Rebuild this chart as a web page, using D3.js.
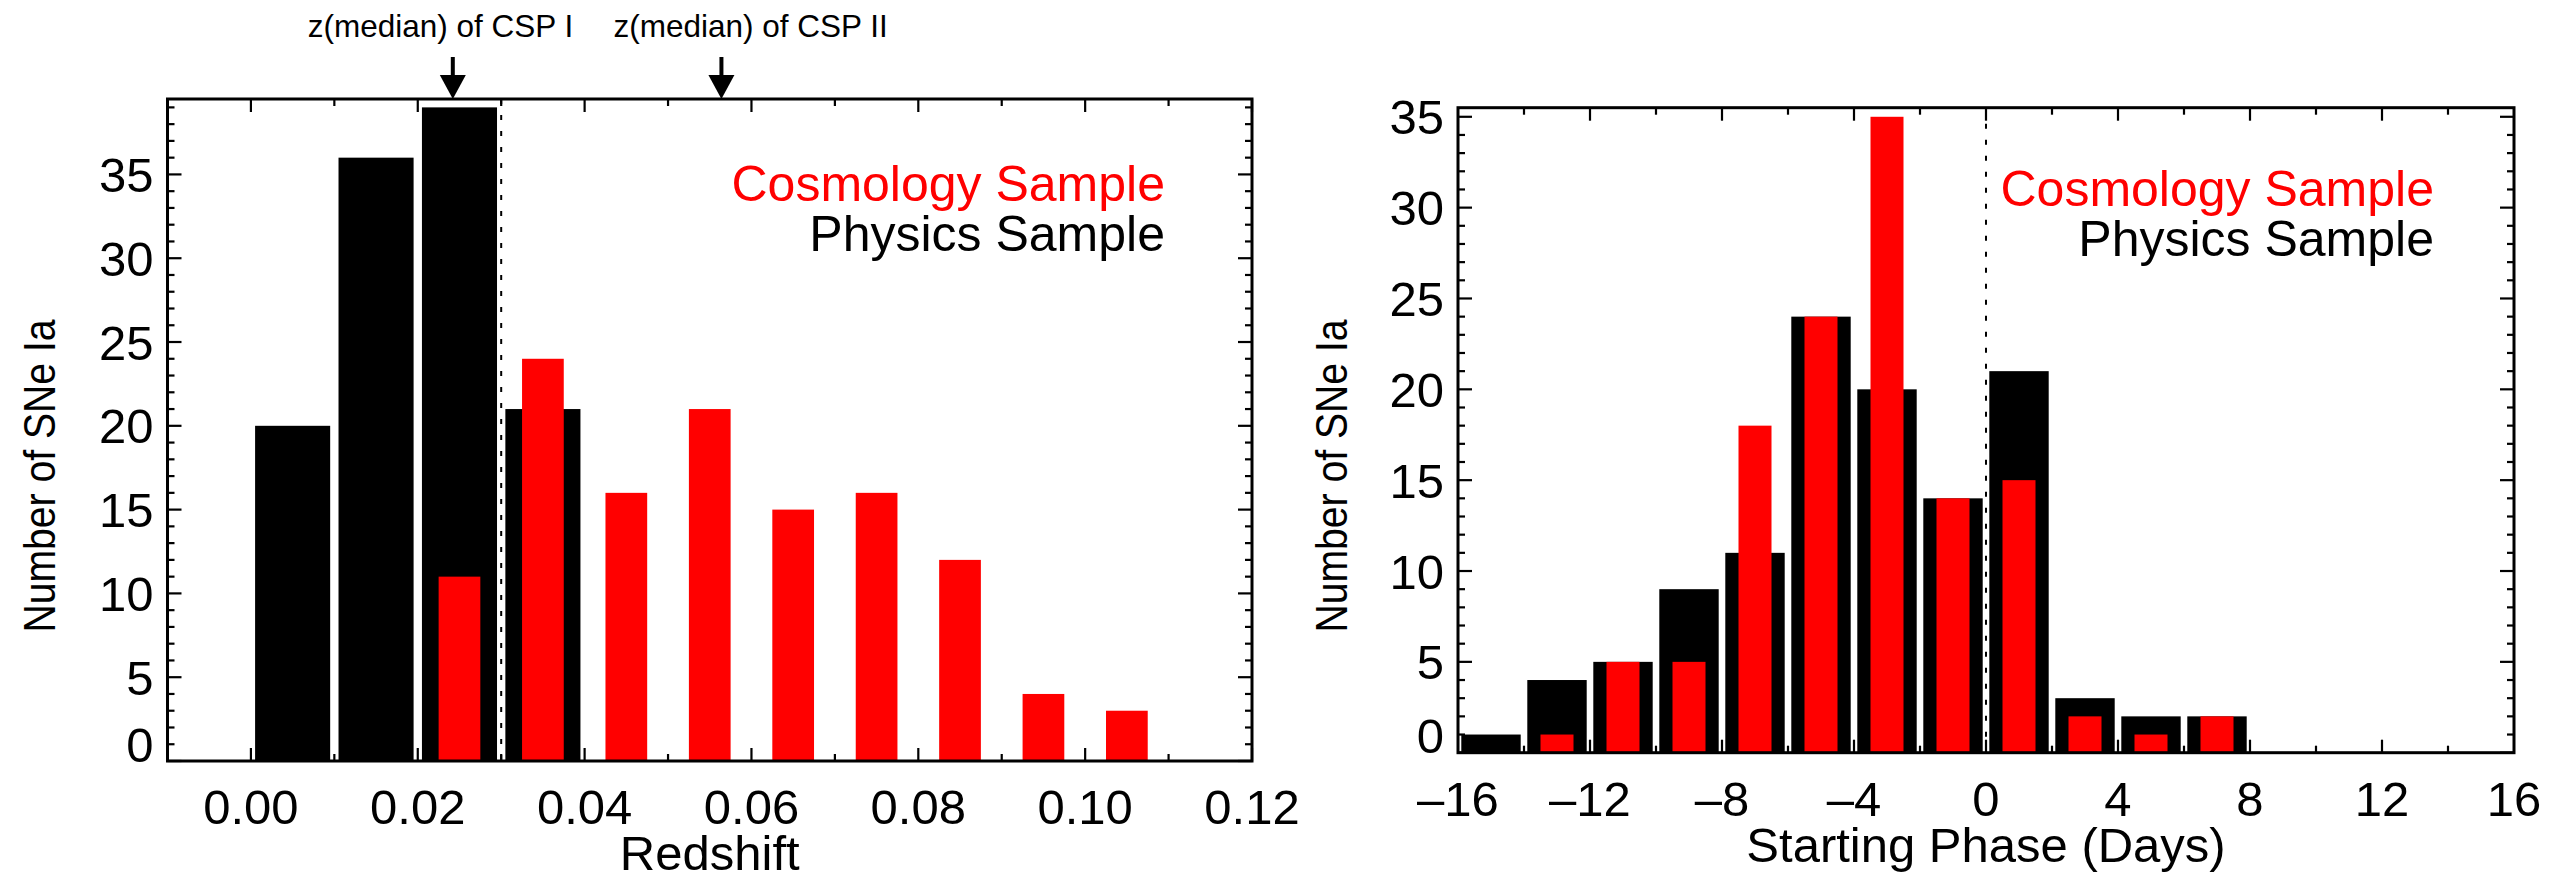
<!DOCTYPE html>
<html>
<head>
<meta charset="utf-8">
<script src="https://cdn.jsdelivr.net/npm/d3@7"></script>
<style>
  html, body { margin: 0; padding: 0; background: #fff; }
  svg { display: block; }
  text { font-family: "Liberation Sans", Arial, Helvetica, sans-serif; }
</style>
</head>
<body>
<script>
// ---------------- DATA ----------------
// Left panel: redshift histogram (bin lower edges, width 0.01)
const zBinStart   = [0.00, 0.01, 0.02, 0.03, 0.04, 0.05, 0.06, 0.07, 0.08, 0.09, 0.10];
const zBinWidth   = 0.01;
const zPhysics    = [20, 36, 39, 21, 0, 0, 0, 0, 0, 0, 0];
const zCosmology  = [0, 0, 11, 24, 16, 21, 15, 16, 12, 4, 3];
const zTicks      = [0.00, 0.02, 0.04, 0.06, 0.08, 0.10, 0.12];
const zTickLabels = ["0.00", "0.02", "0.04", "0.06", "0.08", "0.10", "0.12"];
const zCut        = 0.03;
const zMedianLabels = ["z(median) of CSP I", "z(median) of CSP II"];
const zMedianValues = [0.0242, 0.0564];

// Right panel: starting phase histogram (bin lower edges, width 2 days)
const phaseBinStart  = [-16, -14, -12, -10, -8, -6, -4, -2, 0, 2, 4, 6];
const phaseBinWidth  = 2;
const phasePhysics   = [1, 4, 5, 9, 11, 24, 20, 14, 21, 3, 2, 2];
const phaseCosmology = [0, 1, 5, 5, 18, 24, 35, 14, 15, 2, 1, 2];
const phaseTicks      = [-16, -12, -8, -4, 0, 4, 8, 12, 16];
const phaseTickLabels = ["\u201316", "\u201312", "\u20138", "\u20134", "0", "4", "8", "12", "16"];
const phaseCut = 0;

const countTicks      = [0, 5, 10, 15, 20, 25, 30, 35];
const countTickLabels = ["0", "5", "10", "15", "20", "25", "30", "35"];

const yTitle = "Number of SNe Ia";
const legendLabels = ["Cosmology Sample", "Physics Sample"];
const legendColors = ["#ff0000", "#000000"];

// ---------------- LAYOUT ----------------
const W = 2575, H = 882;
const svg = d3.select("body").append("svg").attr("width", W).attr("height", H);

const RED = "#ff0000", BLACK = "#000000";
const TICKFONT = 49, TITLEFONT = 49, YTITLEFONT = 45, LEGFONT = 50;

function panel(opts) {
  const g = svg.append("g");
  const x = d3.scaleLinear().domain(opts.xDomain).range([opts.x0, opts.x1]);
  const y = d3.scaleLinear().domain(opts.yDomain).range([opts.y1, opts.y0]);

  // bars: physics (black, 0.9 bin) then cosmology (red, 0.5 bin)
  const bw = opts.binWidth;
  const phys = opts.binStart.map((s, i) => ({s, v: opts.phys[i]})).filter(d => d.v > 0);
  const cosm = opts.binStart.map((s, i) => ({s, v: opts.cosm[i]})).filter(d => d.v > 0);
  g.selectAll("rect.phys").data(phys).join("rect")
    .attr("x", d => x(d.s + bw * 0.05))
    .attr("width", d => x(d.s + bw * 0.95) - x(d.s + bw * 0.05))
    .attr("y", d => y(d.v))
    .attr("height", d => y(0) - y(d.v))
    .attr("fill", BLACK);
  g.selectAll("rect.cosm").data(cosm).join("rect")
    .attr("x", d => x(d.s + bw * 0.25))
    .attr("width", d => x(d.s + bw * 0.75) - x(d.s + bw * 0.25))
    .attr("y", d => y(d.v))
    .attr("height", d => y(0) - y(d.v))
    .attr("fill", RED);

  // dotted cut line
  g.append("line")
    .attr("x1", x(opts.cut)).attr("x2", x(opts.cut))
    .attr("y1", opts.y0).attr("y2", opts.y1)
    .attr("stroke", BLACK).attr("stroke-width", 2)
    .attr("stroke-dasharray", "5,11");

  // ticks
  const tickG = g.append("g").attr("stroke", BLACK).attr("stroke-width", 2.2);
  const xMajLen = 13, xMinLen = 7, yMajLen = 14, yMinLen = 7;
  opts.xMinors.forEach(v => {
    const isMaj = opts.xTicks.some(t => Math.abs(t - v) < 1e-9);
    const L = isMaj ? xMajLen : xMinLen;
    tickG.append("line").attr("x1", x(v)).attr("x2", x(v)).attr("y1", opts.y1).attr("y2", opts.y1 - L);
    tickG.append("line").attr("x1", x(v)).attr("x2", x(v)).attr("y1", opts.y0).attr("y2", opts.y0 + L);
  });
  opts.yMinors.forEach(v => {
    const isMaj = countTicks.includes(v);
    const L = isMaj ? yMajLen : yMinLen;
    tickG.append("line").attr("x1", opts.x0).attr("x2", opts.x0 + L).attr("y1", y(v)).attr("y2", y(v));
    tickG.append("line").attr("x1", opts.x1).attr("x2", opts.x1 - L).attr("y1", y(v)).attr("y2", y(v));
  });

  // frame
  g.append("rect")
    .attr("x", opts.x0).attr("y", opts.y0)
    .attr("width", opts.x1 - opts.x0).attr("height", opts.y1 - opts.y0)
    .attr("fill", "none").attr("stroke", BLACK).attr("stroke-width", 3);

  // x tick labels
  g.selectAll("text.xt").data(opts.xTicks).join("text")
    .attr("x", d => x(d)).attr("y", opts.y1 + 63)
    .attr("text-anchor", "middle").attr("font-size", TICKFONT)
    .text((d, i) => opts.xTickLabels[i]);
  // y tick labels (the "0" label is raised off the axis, as in the original)
  g.selectAll("text.yt").data(countTicks).join("text")
    .attr("x", opts.x0 - 14)
    .attr("y", d => y(d) - (d === 0 ? 17 : 0))
    .attr("dy", "0.36em")
    .attr("text-anchor", "end").attr("font-size", TICKFONT)
    .text((d, i) => countTickLabels[i]);

  // axis titles
  g.append("text").attr("x", (opts.x0 + opts.x1) / 2).attr("y", opts.xTitleY)
    .attr("text-anchor", "middle").attr("font-size", TITLEFONT).text(opts.xTitle);
  g.append("text")
    .attr("transform", `translate(${opts.yTitleX},${476}) rotate(-90) scale(0.87,1)`)
    .attr("text-anchor", "middle").attr("font-size", YTITLEFONT).text(yTitle);

  // legend
  legendLabels.forEach((lab, i) => {
    g.append("text").attr("x", opts.x1 - opts.legRight).attr("y", opts.legY + i * 50)
      .attr("text-anchor", "end").attr("font-size", LEGFONT)
      .attr("fill", legendColors[i]).text(lab);
  });
  return {g, x, y};
}

const left = panel({
  x0: 167.5, x1: 1252, y0: 99, y1: 761,
  xDomain: [-0.01, 0.12], yDomain: [0, 39.5],
  binStart: zBinStart, binWidth: zBinWidth, phys: zPhysics, cosm: zCosmology,
  cut: zCut,
  xTicks: zTicks, xTickLabels: zTickLabels,
  xMinors: d3.range(0, 13).map(i => +(i * 0.01).toFixed(2)),
  yMinors: d3.range(0, 40),
  xTitle: "Redshift", xTitleY: 870, yTitleX: 55,
  legRight: 87, legY: 201
});

const right = panel({
  x0: 1458, x1: 2514, y0: 107.7, y1: 752.7,
  xDomain: [-16, 16], yDomain: [0, 35.5],
  binStart: phaseBinStart, binWidth: phaseBinWidth, phys: phasePhysics, cosm: phaseCosmology,
  cut: phaseCut,
  xTicks: phaseTicks, xTickLabels: phaseTickLabels,
  xMinors: d3.range(-14, 16, 2),
  yMinors: d3.range(0, 36),
  xTitle: "Starting Phase (Days)", xTitleY: 862, yTitleX: 1347,
  legRight: 80, legY: 206
});

// median arrows on the left panel
const textOffsets = [-145, -108];
zMedianValues.forEach((z, i) => {
  const ax = left.x(z);
  const tipY = 99;
  svg.append("line").attr("x1", ax).attr("x2", ax).attr("y1", 57).attr("y2", tipY - 20)
    .attr("stroke", BLACK).attr("stroke-width", 4);
  svg.append("path")
    .attr("d", `M${ax - 13},${tipY - 24} L${ax + 13},${tipY - 24} L${ax},${tipY} Z`)
    .attr("fill", BLACK);
  svg.append("text").attr("x", ax + textOffsets[i]).attr("y", 37)
    .attr("font-size", 31.5).text(zMedianLabels[i]);
});
</script>
</body>
</html>
